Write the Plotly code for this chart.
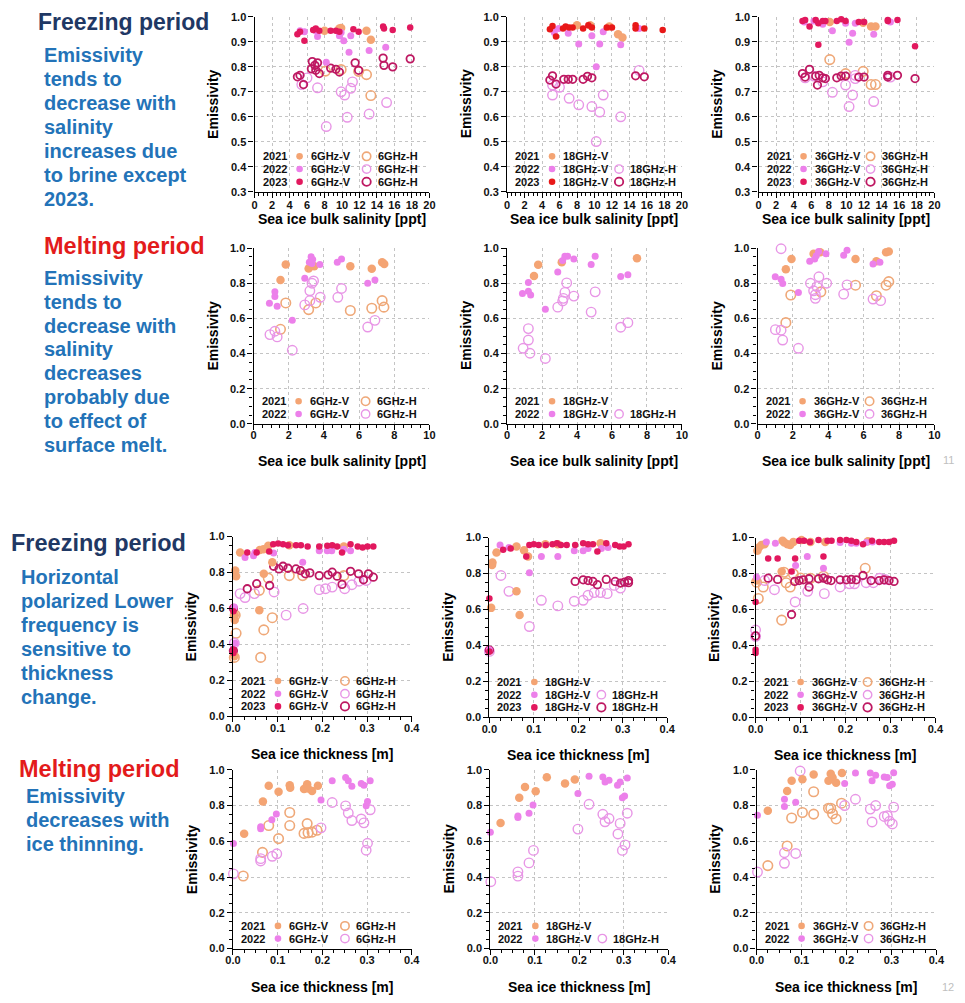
import plotly.graph_objects as go

W, H = 965, 1003

# ================= DATA (x, emissivity) =================
# ---- Freezing period, salinity [ppt] ----
SF6_V21 = [(8.0,0.944),(9.7,0.953),(9.9,0.955),(12.8,0.944),(13.3,0.908)]
SF6_V22 = [(5.2,0.944),(5.7,0.940),(7.0,0.944),(7.2,0.921),(8.2,0.818),(9.7,0.924),(9.9,0.937),(10.2,0.904),(10.8,0.858),(11.0,0.924),(13.1,0.865),(15.0,0.878)]
SF6_V23 = [(4.9,0.930),(5.2,0.940),(5.7,0.904),(6.7,0.947),(7.0,0.953),(7.4,0.944),(8.7,0.944),(9.3,0.944),(9.7,0.940),(11.3,0.950),(11.9,0.940),(14.7,0.961),(14.8,0.953),(15.8,0.947),(17.8,0.957)]
SF6_H21 = [(8.1,0.783),(9.9,0.789),(11.9,0.782),(12.8,0.769),(13.3,0.685)]
SF6_H22 = [(5.4,0.729),(6.0,0.756),(7.2,0.716),(8.2,0.561),(9.9,0.700),(10.3,0.687),(10.6,0.598),(11.0,0.714),(11.2,0.740),(13.1,0.611),(15.1,0.657)]
SF6_H23 = [(4.9,0.760),(5.2,0.766),(5.6,0.729),(6.5,0.792),(6.6,0.821),(6.9,0.806),(7.0,0.786),(7.2,0.816),(7.4,0.773),(8.7,0.795),(9.3,0.790),(9.7,0.779),(11.5,0.816),(11.9,0.786),(14.7,0.835),(14.8,0.806),(15.8,0.800),(17.8,0.832)]

SF18_V21 = [(8.0,0.966),(9.5,0.966),(11.7,0.961),(12.7,0.930),(13.2,0.917)]
SF18_V22 = [(5.2,0.950),(5.4,0.937),(5.9,0.953),(7.0,0.934),(8.2,0.891),(9.7,0.924),(10.2,0.800),(10.6,0.891),(11.0,0.940),(13.0,0.888),(15.1,0.953)]
SF18_V23 = [(4.9,0.950),(5.2,0.963),(5.6,0.921),(6.4,0.953),(6.7,0.961),(7.1,0.957),(7.5,0.957),(8.7,0.953),(9.3,0.966),(9.7,0.957),(11.4,0.957),(12.0,0.957),(14.7,0.966),(14.7,0.953),(15.7,0.953),(17.8,0.947)]
SF18_H21 = []
SF18_H22 = [(5.2,0.727),(5.2,0.687),(6.0,0.718),(7.1,0.674),(8.2,0.648),(9.7,0.641),(10.2,0.501),(10.6,0.619),(11.0,0.687),(13.0,0.600),(15.1,0.786)]
SF18_H23 = [(4.9,0.747),(5.2,0.764),(5.6,0.731),(6.5,0.750),(7.0,0.750),(7.5,0.750),(8.7,0.750),(9.2,0.762),(9.7,0.756),(14.7,0.764),(15.7,0.760)]

SF36_V21 = [(8.1,0.979),(11.9,0.976),(12.8,0.961),(13.3,0.961)]
SF36_V22 = [(5.2,0.979),(6.3,0.983),(7.3,0.970),(8.4,0.944),(9.9,0.974),(10.3,0.898),(10.7,0.934),(11.0,0.974),(13.1,0.930),(15.0,0.979)]
SF36_V23 = [(5.0,0.983),(5.3,0.987),(5.8,0.961),(6.5,0.987),(6.8,0.974),(6.8,0.888),(7.3,0.983),(7.6,0.983),(8.9,0.983),(9.4,0.990),(9.9,0.983),(11.4,0.979),(12.0,0.979),(14.7,0.987),(14.7,0.983),(15.8,0.987),(17.8,0.882)]
SF36_H21 = [(8.1,0.829),(9.9,0.773),(11.9,0.782),(12.8,0.729),(13.3,0.729)]
SF36_H22 = [(5.3,0.756),(6.3,0.763),(7.3,0.740),(8.4,0.698),(9.9,0.727),(10.3,0.641),(10.7,0.687),(11.0,0.766),(11.0,0.753),(13.1,0.661),(15.0,0.759)]
SF36_H23 = [(5.0,0.773),(5.3,0.759),(5.8,0.790),(6.5,0.763),(6.7,0.727),(6.9,0.766),(7.3,0.756),(7.6,0.753),(8.9,0.756),(9.4,0.763),(9.9,0.763),(11.4,0.759),(12.0,0.759),(14.7,0.766),(14.7,0.759),(15.8,0.766),(17.8,0.753)]

# ---- Melting period, salinity [ppt] ----
SM6_V21 = [(1.53,0.819),(1.83,0.907),(3.13,0.884),(3.45,0.897),(5.5,0.897),(6.72,0.882),(7.31,0.920),(7.43,0.910)]
SM6_V22 = [(0.9,0.686),(1.21,0.751),(1.21,0.725),(1.34,0.669),(2.2,0.589),(2.91,0.828),(3.17,0.920),(3.27,0.950),(3.36,0.935),(3.32,0.912),(3.77,0.907),(4.76,0.920),(5.0,0.938),(6.49,0.800),(6.9,0.819)]
SM6_V23 = []
SM6_H21 = [(1.53,0.538),(1.83,0.688),(3.13,0.650),(3.54,0.688),(5.5,0.645),(6.72,0.658),(7.31,0.701),(7.41,0.664)]
SM6_H22 = [(0.93,0.508),(1.21,0.527),(1.34,0.495),(2.2,0.419),(2.91,0.677),(3.2,0.757),(3.2,0.701),(3.32,0.800),(3.41,0.813),(3.79,0.720),(4.79,0.720),(5.0,0.770),(6.49,0.551),(6.9,0.589)]
SM6_H23 = []

SM18_V21 = [(1.54,0.841),(1.78,0.905),(3.13,0.920),(7.43,0.942)]
SM18_V22 = [(0.88,0.742),(1.22,0.804),(1.22,0.755),(1.35,0.733),(2.19,0.652),(2.9,0.864),(3.18,0.929),(3.31,0.953),(3.46,0.953),(3.82,0.938),(4.81,0.907),(5.04,0.953),(6.5,0.839),(6.91,0.849)]
SM18_V23 = []
SM18_H21 = []
SM18_H22 = [(0.92,0.430),(1.22,0.542),(1.22,0.477),(1.31,0.402),(2.19,0.372),(2.9,0.664),(3.18,0.699),(3.22,0.714),(3.31,0.748),(3.41,0.802),(3.82,0.727),(4.81,0.636),(5.04,0.751),(6.5,0.550),(6.91,0.576)]
SM18_H23 = []

SM36_V21 = [(1.6,0.879),(1.92,0.938),(3.17,0.968),(3.54,0.976),(5.54,0.938),(6.72,0.925),(7.27,0.976),(7.42,0.981)]
SM36_V22 = [(1.0,0.837),(1.33,0.822),(1.42,0.798),(2.31,0.748),(2.95,0.925),(3.23,0.938),(3.32,0.957),(3.45,0.981),(3.87,0.968),(4.87,0.959),(5.06,0.987),(6.53,0.910),(6.92,0.920)]
SM36_V23 = []
SM36_H21 = [(1.6,0.576),(1.88,0.733),(3.58,0.751),(5.54,0.789),(6.72,0.729),(7.27,0.789),(7.42,0.809)]
SM36_H22 = [(1.33,0.996),(1.01,0.536),(1.33,0.533),(1.42,0.477),(2.31,0.430),(2.99,0.800),(3.17,0.757),(3.27,0.735),(3.27,0.714),(3.36,0.781),(3.47,0.837),(3.91,0.800),(4.87,0.738),(5.06,0.791),(6.53,0.710),(6.96,0.701)]
SM36_H23 = []

# ---- Freezing period, thickness [m] ----
TF6_V21 = [(0.005,0.811),(0.007,0.780),(0.004,0.536),(0.004,0.563),(0.016,0.912),(0.003,0.334),(0.059,0.591),(0.060,0.925),(0.068,0.930),(0.069,0.793),(0.079,0.949),(0.088,0.857),(0.126,0.952),(0.248,0.945)]
TF6_V22 = [(0.003,0.609),(0.005,0.407),(0.027,0.884),(0.046,0.894),(0.049,0.912),(0.091,0.908),(0.156,0.857),(0.193,0.921),(0.211,0.921),(0.221,0.921),(0.248,0.930),(0.263,0.921)]
TF6_V23 = [(0.001,0.585),(0.001,0.371),(0.001,0.352),(0.032,0.912),(0.053,0.912),(0.081,0.917),(0.090,0.958),(0.101,0.961),(0.112,0.958),(0.123,0.952),(0.141,0.952),(0.152,0.952),(0.167,0.945),(0.193,0.945),(0.211,0.949),(0.222,0.952),(0.233,0.945),(0.244,0.912),(0.263,0.958),(0.279,0.945),(0.290,0.939),(0.301,0.945),(0.314,0.945)]
TF6_H21 = [(0.005,0.563),(0.007,0.462),(0.003,0.328),(0.062,0.328),(0.069,0.481),(0.079,0.769),(0.088,0.549),(0.126,0.783),(0.156,0.783),(0.248,0.783),(0.059,0.701)]
TF6_H22 = [(0.003,0.407),(0.016,0.683),(0.027,0.661),(0.048,0.683),(0.092,0.692),(0.119,0.563),(0.157,0.600),(0.193,0.705),(0.207,0.710),(0.222,0.719),(0.250,0.710),(0.266,0.732),(0.282,0.752),(0.298,0.756)]
TF6_H23 = [(0.001,0.600),(0.001,0.365),(0.032,0.710),(0.053,0.738),(0.082,0.728),(0.091,0.835),(0.103,0.820),(0.112,0.835),(0.123,0.824),(0.141,0.820),(0.151,0.811),(0.162,0.793),(0.172,0.798),(0.193,0.783),(0.213,0.787),(0.222,0.802),(0.233,0.780),(0.244,0.734),(0.263,0.807),(0.281,0.793),(0.292,0.760),(0.303,0.793),(0.314,0.774)]

TF18_V21 = [(0.004,0.609),(0.007,0.862),(0.006,0.848),(0.016,0.917),(0.061,0.950),(0.061,0.701),(0.068,0.569),(0.078,0.930),(0.087,0.895),(0.126,0.963),(0.154,0.963),(0.250,0.969)]
TF18_V22 = [(0.0,0.376),(0.024,0.958),(0.044,0.945),(0.090,0.804),(0.117,0.895),(0.154,0.895),(0.191,0.927),(0.211,0.927),(0.222,0.939),(0.252,0.939),(0.267,0.945)]
TF18_V23 = [(0.0,0.661),(0.0,0.367),(0.031,0.932),(0.048,0.939),(0.083,0.895),(0.090,0.958),(0.100,0.963),(0.111,0.958),(0.127,0.958),(0.142,0.963),(0.152,0.969),(0.161,0.958),(0.174,0.958),(0.193,0.958),(0.211,0.969),(0.222,0.963),(0.233,0.963),(0.243,0.923),(0.263,0.969),(0.283,0.958),(0.293,0.950),(0.302,0.950),(0.313,0.963)]
TF18_H21 = []
TF18_H22 = [(0.0,0.367),(0.026,0.789),(0.044,0.701),(0.090,0.505),(0.117,0.651),(0.154,0.620),(0.191,0.646),(0.211,0.651),(0.222,0.679),(0.236,0.694),(0.250,0.694),(0.265,0.688),(0.281,0.734),(0.295,0.719)]
TF18_H23 = [(0.0,0.374),(0.193,0.756),(0.211,0.765),(0.222,0.761),(0.233,0.756),(0.243,0.738),(0.263,0.767),(0.283,0.756),(0.295,0.747),(0.304,0.752),(0.313,0.761),(0.313,0.749)]

TF36_V21 = [(0.004,0.927),(0.007,0.945),(0.013,0.958),(0.020,0.963),(0.002,0.761),(0.058,0.811),(0.060,0.982),(0.064,0.972),(0.071,0.963),(0.077,0.958),(0.084,0.976),(0.102,0.987),(0.122,0.976),(0.155,0.976),(0.250,0.980)]
TF36_V22 = [(0.002,0.780),(0.024,0.976),(0.044,0.969),(0.089,0.844),(0.115,0.895),(0.151,0.829),(0.188,0.972),(0.213,0.969),(0.224,0.969),(0.246,0.972),(0.260,0.976)]
TF36_V23 = [(0.0,0.376),(0.0,0.358),(0.0,0.642),(0.028,0.884),(0.049,0.884),(0.088,0.884),(0.080,0.811),(0.097,0.982),(0.108,0.982),(0.121,0.976),(0.140,0.987),(0.151,0.895),(0.160,0.982),(0.169,0.982),(0.188,0.987),(0.202,0.987),(0.213,0.982),(0.224,0.976),(0.239,0.963),(0.259,0.982),(0.275,0.976),(0.286,0.976),(0.297,0.976),(0.308,0.982)]
TF36_H21 = [(0.002,0.752),(0.006,0.661),(0.017,0.725),(0.058,0.541),(0.063,0.807),(0.068,0.749),(0.077,0.725),(0.084,0.798),(0.100,0.775),(0.122,0.774),(0.151,0.785),(0.244,0.829)]
TF36_H22 = [(0.0,0.486),(0.0,0.450),(0.020,0.761),(0.042,0.710),(0.088,0.642),(0.116,0.701),(0.153,0.688),(0.188,0.725),(0.209,0.743),(0.220,0.743),(0.246,0.749),(0.262,0.749),(0.276,0.774),(0.288,0.767)]
TF36_H23 = [(0.0,0.453),(0.028,0.774),(0.049,0.767),(0.080,0.572),(0.087,0.756),(0.097,0.761),(0.106,0.765),(0.119,0.725),(0.119,0.771),(0.140,0.771),(0.151,0.774),(0.160,0.765),(0.168,0.761),(0.188,0.765),(0.202,0.765),(0.213,0.767),(0.224,0.765),(0.239,0.789),(0.257,0.761),(0.275,0.761),(0.286,0.765),(0.297,0.761),(0.308,0.756)]

# ---- Melting period, thickness [m] ----
TM6_V21 = [(0.025,0.642),(0.067,0.822),(0.080,0.910),(0.102,0.877),(0.127,0.914),(0.128,0.899),(0.159,0.892),(0.166,0.919),(0.168,0.895),(0.177,0.881),(0.190,0.910)]
TM6_V22 = [(0.001,0.587),(0.062,0.681),(0.062,0.670),(0.087,0.721),(0.097,0.752),(0.197,0.831),(0.222,0.938),(0.252,0.956),(0.258,0.938),(0.266,0.908),(0.287,0.923),(0.293,0.914),(0.298,0.798),(0.301,0.822),(0.307,0.938)]
TM6_V23 = []
TM6_H21 = [(0.023,0.406),(0.066,0.538),(0.080,0.688),(0.102,0.615),(0.127,0.761),(0.127,0.688),(0.159,0.644),(0.166,0.699),(0.168,0.648),(0.177,0.651),(0.188,0.662)]
TM6_H22 = [(0.001,0.418),(0.062,0.503),(0.062,0.490),(0.088,0.516),(0.098,0.530),(0.197,0.675),(0.222,0.817),(0.252,0.798),(0.258,0.758),(0.266,0.716),(0.287,0.725),(0.293,0.703),(0.298,0.550),(0.301,0.589),(0.307,0.776)]
TM6_H23 = []

TM18_V21 = [(0.023,0.702),(0.065,0.843),(0.078,0.904),(0.102,0.880),(0.127,0.958),(0.168,0.923),(0.190,0.945)]
TM18_V22 = [(0.0,0.650),(0.062,0.742),(0.062,0.733),(0.087,0.757),(0.096,0.803),(0.197,0.867),(0.222,0.963),(0.253,0.960),(0.258,0.932),(0.267,0.941),(0.286,0.913),(0.292,0.932),(0.297,0.843),(0.302,0.853),(0.308,0.954)]
TM18_V23 = []
TM18_H21 = []
TM18_H22 = [(0.001,0.374),(0.062,0.429),(0.062,0.405),(0.087,0.479),(0.097,0.549),(0.197,0.668),(0.222,0.807),(0.253,0.751),(0.258,0.709),(0.267,0.727),(0.287,0.641),(0.292,0.700),(0.297,0.549),(0.303,0.580),(0.308,0.757)]
TM18_H23 = []

TM36_V21 = [(0.025,0.771),(0.068,0.881),(0.078,0.938),(0.102,0.947),(0.127,0.974),(0.160,0.938),(0.165,0.978),(0.169,0.956),(0.177,0.927),(0.190,0.982)]
TM36_V22 = [(0.002,0.745),(0.062,0.835),(0.062,0.794),(0.087,0.818),(0.196,0.923),(0.220,0.982),(0.253,0.982),(0.257,0.938),(0.265,0.969),(0.284,0.960),(0.291,0.956),(0.296,0.910),(0.302,0.919),(0.305,0.983)]
TM36_V23 = []
TM36_H21 = [(0.025,0.464),(0.068,0.574),(0.078,0.730),(0.102,0.761),(0.127,0.877),(0.127,0.752),(0.160,0.785),(0.165,0.785),(0.169,0.754),(0.177,0.725),(0.189,0.813)]
TM36_H22 = [(0.002,0.428),(0.097,0.993),(0.062,0.536),(0.062,0.477),(0.087,0.532),(0.196,0.800),(0.220,0.835),(0.253,0.780),(0.257,0.708),(0.265,0.800),(0.284,0.739),(0.291,0.743),(0.296,0.712),(0.302,0.697),(0.305,0.791)]
TM36_H23 = []

# Axis texts
Y_TITLE = "Emissivity"
X_TITLE_SAL = "Sea ice bulk salinity [ppt]"
X_TITLE_THK = "Sea ice thickness [m]"
YEARS = ["2021", "2022", "2023"]

# ================= STYLES / LAYOUT =================
FONT = "Liberation Sans, Arial, sans-serif"
C21, C22, C23, C23H = "#F4A473", "#EC80EA", "#E2185E", "#BE1862"
C23_RED = "#E81818"
OPEN21, OPEN22 = "#EFA878", "#E896E6"

def sty(key, red23=False):
    return {
        "V21": dict(symbol="circle", size=8.5, color=C21, line=dict(width=0)),
        "V22": dict(symbol="circle", size=7, color=C22, line=dict(width=0)),
        "V23": dict(symbol="circle", size=6.5, color=C23_RED if red23 else C23, line=dict(width=0)),
        "H21": dict(symbol="circle-open", size=9.5, color=OPEN21, line=dict(width=1.6)),
        "H22": dict(symbol="circle-open", size=9.5, color=OPEN22, line=dict(width=1.4)),
        "H23": dict(symbol="circle-open", size=7.5, color=C23H, line=dict(width=1.8)),
    }[key]

# panels: (prefix, freq, kind, pixel box [x0,x1,ytop,ybot], legend rows)
PANELS = [
    ("SF6", "6", "SF", [251, 429, 11, 188], [(1,1),(1,1),(1,1)]),
    ("SF18", "18", "SF", [508, 686, 11, 188], [(1,0),(1,1),(1,1)]),
    ("SF36", "36", "SF", [764, 943, 11, 188], [(1,1),(1,1),(1,1)]),
    ("SM6", "6", "SM", [250, 429, 245, 423], [(1,1),(1,1)]),
    ("SM18", "18", "SM", [508, 686, 245, 423], [(1,0),(1,1)]),
    ("SM36", "36", "SM", [763, 943, 245, 423], [(1,1),(1,1)]),
    ("TF6", "6", "TF", [229, 411, 537, 719], [(1,1),(1,1),(1,1)]),
    ("TF18", "18", "TF", [490, 671, 538, 720], [(1,0),(1,1),(1,1)]),
    ("TF36", "36", "TF", [761, 944, 538, 720], [(1,1),(1,1),(1,1)]),
    ("TM6", "6", "TM", [229, 411, 773, 954], [(1,1),(1,1)]),
    ("TM18", "18", "TM", [491, 672, 773, 954], [(1,0),(1,1)]),
    ("TM36", "36", "TM", [762, 945, 773, 954], [(1,1),(1,1)]),
]

AXCFG = {
    "SF": dict(xr=[0, 20], xd=2, xm=0.5, xf="d", yr=[0.3, 1.0], yd=0.1, ym=None, xt=X_TITLE_SAL, xtoff=27, tso=-2),
    "SM": dict(xr=[0, 10], xd=2, xm=0.5, xf="d", yr=[0, 1.0], yd=0.2, ym=0.05, xt=X_TITLE_SAL, xtoff=37, tso=-4),
    "TF": dict(xr=[0, 0.4], xd=0.1, xm=0.025, xf=".1f", yr=[0, 1.0], yd=0.2, ym=0.05, xt=X_TITLE_THK, xtoff=38, tso=-4),
    "TM": dict(xr=[0, 0.4], xd=0.1, xm=0.025, xf=".1f", yr=[0, 1.0], yd=0.2, ym=0.05, xt=X_TITLE_THK, xtoff=38, tso=-4),
}

g = globals()
fig = go.Figure()
layout = dict(width=W, height=H, margin=dict(l=0, r=0, t=0, b=0), autosize=False,
              paper_bgcolor="white", plot_bgcolor="white", showlegend=False)
annotations, shapes = [], []
tickfont = dict(family=FONT, size=11, color="#111111", weight="bold")

def add_text(xref, yref, x, y, text, size, color, xanchor="left", yanchor="middle", xshift=0, yshift=0, angle=0):
    annotations.append(dict(xref=xref, yref=yref, x=x, y=y, text=text, showarrow=False,
                            xanchor=xanchor, yanchor=yanchor, xshift=xshift, yshift=yshift,
                            textangle=angle, font=dict(family=FONT, size=size, color=color, weight="bold")))

for i, (pre, freq, kind, box, rows) in enumerate(PANELS, start=1):
    cfg = AXCFG[kind]
    x0, x1, yt, yb = box
    sx = "" if i == 1 else str(i)
    xa, ya = "xaxis" + sx, "yaxis" + sx
    common = dict(showline=True, linecolor="black", linewidth=1.2, ticks="outside", ticklen=5,
                  tickwidth=1.2, tickcolor="black", showgrid=True, gridcolor="#C4C4C4", griddash="dot",
                  gridwidth=1, zeroline=False, tickfont=tickfont, fixedrange=True, mirror=False)
    layout[xa] = dict(common, domain=[x0 / W, x1 / W], range=cfg["xr"], dtick=cfg["xd"], tick0=0,
                      anchor="y" + sx, tickformat=cfg["xf"], ticklabelstandoff=cfg["tso"],
                      minor=dict(dtick=cfg["xm"], tick0=0, ticks="outside", ticklen=3, tickcolor="black", showgrid=False))
    ydict = dict(common, domain=[1 - yb / H, 1 - yt / H], range=cfg["yr"], dtick=cfg["yd"], tick0=0,
                 anchor="x" + sx, tickformat=".1f")
    if cfg["ym"]:
        ydict["minor"] = dict(dtick=cfg["ym"], tick0=0, ticks="outside", ticklen=3, tickcolor="black", showgrid=False)
    layout[ya] = ydict

    red23 = (pre == "SF18")
    for key in ["H21", "H22", "H23", "V21", "V22", "V23"]:
        pts = g[f"{pre}_{key}"]
        if not pts:
            continue
        fig.add_trace(go.Scatter(x=[p[0] for p in pts], y=[p[1] for p in pts], mode="markers",
                                 xaxis="x" + sx, yaxis="y" + sx, marker=sty(key, red23),
                                 cliponaxis=False, hoverinfo="skip", showlegend=False))

    xd, yd = f"x{sx} domain", f"y{sx} domain"
    # axis titles
    add_text(xd, yd, 0, 0.5, Y_TITLE, 14, "black", xanchor="center", xshift=-41, angle=-90)
    add_text(xd, yd, 0.5, 0, cfg["xt"], 14, "black", xanchor="center", yshift=-cfg["xtoff"])

    # in-plot legend
    n = len(rows)
    for r, (hasV, hasH) in enumerate(rows):
        ypix = 10 + (n - 1 - r) * 12.7
        yr_key = ["21", "22", "23"][r]
        add_text(xd, yd, 0, 0, YEARS[r], 11, "#111111", xshift=6, yshift=ypix)
        for has, pol, cx, lx in [(hasV, "V", 45, 54), (hasH, "H", 112, 121)]:
            if not has:
                continue
            st = sty(pol + yr_key, red23)
            rad = 3.3 if pol == "V" else 4.2
            if pol == "V":
                shp = dict(fillcolor=st["color"], line=dict(width=0))
            else:
                shp = dict(fillcolor="rgba(0,0,0,0)", line=dict(color=st["color"], width=st["line"]["width"]))
            shapes.append(dict(type="circle", xref=xd, yref=yd, xsizemode="pixel", ysizemode="pixel",
                               xanchor=0, yanchor=0, x0=cx - rad, x1=cx + rad,
                               y0=ypix - rad, y1=ypix + rad, **shp))
            add_text(xd, yd, 0, 0, f"{freq}GHz-{pol}", 11, "#111111", xshift=lx, yshift=ypix)

# left-side commentary
NAVY, RED, BLUE = "#1F3864", "#E31B1B", "#2373B8"
def para(xpx, lines, ypx0, size=20, color=BLUE, step=24.2):
    for k, t in enumerate(lines):
        add_text("paper", "paper", (xpx - 9) / W, 1 - (ypx0 + k * step) / H, t, size, color)

para(37, ["Freezing period"], 16, size=23, color=NAVY)
para(44, ["Emissivity", "tends to", "decrease with", "salinity", "increases due", "to brine except", "2023."], 50)
para(44, ["Melting period"], 243, size=23.5, color=RED)
para(44, ["Emissivity", "tends to", "decrease with", "salinity", "decreases", "probably due", "to effect of", "surface melt."], 275)
para(10, ["Freezing period"], 544, size=23.5, color=NAVY)
para(20, ["Horizontal", "polarized Lower", "frequency is", "sensitive to", "thickness", "change."], 578)
para(18, ["Melting period"], 772, size=23.5, color=RED)
para(25, ["Emissivity", "decreases with", "ice thinning."], 800)

# slide numbers
for txt, py in [("11", 460), ("12", 993)]:
    annotations.append(dict(xref="paper", yref="paper", x=957 / W, y=1 - py / H, text=txt, showarrow=False,
                            xanchor="center", yanchor="middle", font=dict(family=FONT, size=11, color="#C0C0C0")))

layout["annotations"] = annotations
layout["shapes"] = shapes
fig.update_layout(**layout)
fig.write_html("out.html", config={"displayModeBar": False},
               post_script="document.body.style.margin='0';document.body.style.padding='0';document.body.style.overflow='hidden';")
